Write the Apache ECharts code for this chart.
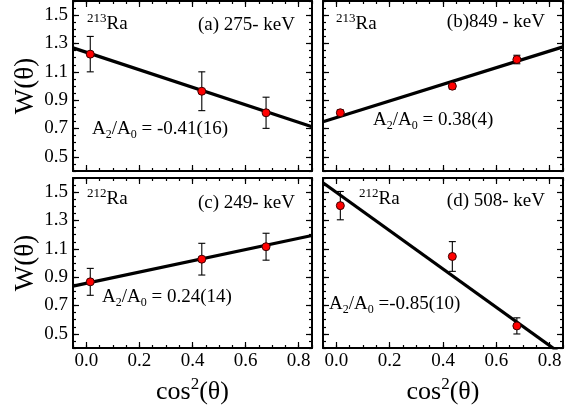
<!DOCTYPE html>
<html>
<head>
<meta charset="utf-8">
<script src="https://cdn.jsdelivr.net/npm/echarts@6/dist/echarts.min.js"></script>
<style>
html,body{margin:0;padding:0;background:#fff;}
#c{width:572px;height:406px;}
</style>
</head>
<body>
<div id="c"></div>
<script>
// ---- data ----
const cos2Values = [0.015, 0.435, 0.677];
const wA = [1.225, 0.963, 0.811];
const errA = [0.125, 0.137, 0.110];
const wB = [0.811, 0.999, 1.187];
const errB = [0.020, 0.020, 0.030];
const wC = [0.867, 1.027, 1.115];
const errC = [0.095, 0.112, 0.095];
const wD = [1.405, 1.046, 0.556];
const errD = [0.100, 0.105, 0.057];
const fitX = [-0.05, 0.85];
const fitA = [1.269, 0.712];
const fitB = [0.747, 1.276];
const fitC = [0.837, 1.194];
const fitD = [1.566, 0.349];
const xTickLabels = [0.0, 0.2, 0.4, 0.6, 0.8];
const yTickLabels = [0.5, 0.7, 0.9, 1.1, 1.3, 1.5];
const massNumbers = ['213', '213', '212', '212'];
const gammaLabels = ['(a) 275- keV', '(b)849 - keV', '(c) 249- keV', '(d) 508- keV'];
const ratioTexts = ['= -0.41(16)', '= 0.38(4)', '= 0.24(14)', '=-0.85(10)'];

const panelsW = [wA, wB, wC, wD];
const panelsErr = [errA, errB, errC, errD];
const panelsFit = [fitA, fitB, fitC, fitD];

// ---- layout ----
const FONT = "'Liberation Serif','Times New Roman',serif";
const grids = [
  {left: 73, top: 1, width: 239, height: 170},
  {left: 323, top: 1, width: 240, height: 170},
  {left: 73, top: 178, width: 239, height: 170},
  {left: 323, top: 178, width: 240, height: 170}
];
const XMIN = -0.05, XMAX = 0.85, YMIN = 0.4, YMAX = 1.6;

const xAxes = [], yAxes = [], series = [], graphics = [];

grids.forEach((g, i) => {
  const bottomRow = i >= 2, leftCol = i % 2 === 0;
  const base = {type: 'value', gridIndex: i, splitLine: {show: false}};
  const xi = xAxes.length;
  xAxes.push(Object.assign({}, base, {
    position: 'bottom', min: XMIN, max: XMAX, interval: 0.05,
    axisLine: {show: true, onZero: false, lineStyle: {color: '#000', width: 2}},
    axisTick: {show: true, inside: true, length: 3, lineStyle: {color: '#000', width: 1.2}},
    axisLabel: {show: bottomRow, customValues: xTickLabels, formatter: v => v.toFixed(1),
      color: '#000', fontFamily: FONT, fontSize: 19, margin: 4},
    name: bottomRow ? '{n|cos}{s|2}{n|(θ)}' : '',
    nameLocation: 'middle', nameGap: 28,
    nameTextStyle: {color: '#000', rich: {
      n: {fontFamily: FONT, fontSize: 26, lineHeight: 32, color: '#000'},
      s: {fontFamily: FONT, fontSize: 17, lineHeight: 17, verticalAlign: 'top', color: '#000'}
    }}
  }));
  xAxes.push(Object.assign({}, base, {
    position: 'bottom', min: XMIN, max: XMAX,
    axisLine: {show: false, onZero: false},
    axisTick: {show: true, inside: true, length: 6, customValues: xTickLabels, lineStyle: {color: '#000', width: 1.2}},
    axisLabel: {show: false}
  }));
  xAxes.push(Object.assign({}, base, {
    position: 'top', min: XMIN, max: XMAX, interval: 0.05,
    axisLine: {show: true, onZero: false, lineStyle: {color: '#000', width: 2}},
    axisTick: {show: true, inside: true, length: 3, lineStyle: {color: '#000', width: 1.2}},
    axisLabel: {show: false}
  }));
  xAxes.push(Object.assign({}, base, {
    position: 'top', min: XMIN, max: XMAX,
    axisLine: {show: false, onZero: false},
    axisTick: {show: true, inside: true, length: 6, customValues: xTickLabels, lineStyle: {color: '#000', width: 1.2}},
    axisLabel: {show: false}
  }));
  const yi = yAxes.length;
  yAxes.push(Object.assign({}, base, {
    position: 'left', min: YMIN, max: YMAX, interval: 0.05,
    axisLine: {show: true, onZero: false, lineStyle: {color: '#000', width: 2}},
    axisTick: {show: true, inside: true, length: 3, lineStyle: {color: '#000', width: 1.2}},
    axisLabel: {show: leftCol, customValues: yTickLabels, formatter: v => v.toFixed(1),
      color: '#000', fontFamily: FONT, fontSize: 19, margin: 5},
    name: leftCol ? 'W(θ)' : '',
    nameLocation: 'middle', nameGap: 34, nameRotate: 90,
    nameTextStyle: {color: '#000', fontFamily: FONT, fontSize: 27}
  }));
  yAxes.push(Object.assign({}, base, {
    position: 'left', min: YMIN, max: YMAX,
    axisLine: {show: false, onZero: false},
    axisTick: {show: true, inside: true, length: 6, customValues: yTickLabels, lineStyle: {color: '#000', width: 1.2}},
    axisLabel: {show: false}
  }));
  yAxes.push(Object.assign({}, base, {
    position: 'right', min: YMIN, max: YMAX, interval: 0.05,
    axisLine: {show: true, onZero: false, lineStyle: {color: '#000', width: 2}},
    axisTick: {show: true, inside: true, length: 3, lineStyle: {color: '#000', width: 1.2}},
    axisLabel: {show: false}
  }));
  yAxes.push(Object.assign({}, base, {
    position: 'right', min: YMIN, max: YMAX,
    axisLine: {show: false, onZero: false},
    axisTick: {show: true, inside: true, length: 6, customValues: yTickLabels, lineStyle: {color: '#000', width: 1.2}},
    axisLabel: {show: false}
  }));

  series.push({
    type: 'line', xAxisIndex: xi, yAxisIndex: yi, clip: true,
    data: fitX.map((x, k) => [x, panelsFit[i][k]]),
    showSymbol: false, symbol: 'none', silent: true,
    lineStyle: {color: '#000', width: 3.2}, z: 3
  });
  series.push({
    type: 'custom', xAxisIndex: xi, yAxisIndex: yi, z: 4,
    data: cos2Values.map((x, k) => [x, panelsW[i][k], panelsErr[i][k]]),
    renderItem: (params, api) => {
      const x = api.value(0), y = api.value(1), e = api.value(2);
      const top = api.coord([x, y + e]);
      const bot = api.coord([x, y - e]);
      const hw = 3.5;
      const st = {stroke: '#000', lineWidth: 1.1};
      return {type: 'group', children: [
        {type: 'line', shape: {x1: top[0], y1: top[1], x2: bot[0], y2: bot[1]}, style: st},
        {type: 'line', shape: {x1: top[0] - hw, y1: top[1], x2: top[0] + hw, y2: top[1]}, style: st},
        {type: 'line', shape: {x1: bot[0] - hw, y1: bot[1], x2: bot[0] + hw, y2: bot[1]}, style: st}
      ]};
    }
  });
  series.push({
    type: 'scatter', xAxisIndex: xi, yAxisIndex: yi, z: 5,
    data: cos2Values.map((x, k) => [x, panelsW[i][k]]),
    symbol: 'circle', symbolSize: 8,
    itemStyle: {color: '#ff0000', borderColor: '#3a0000', borderWidth: 1, opacity: 1}
  });
});

const richMain = {
  n: {fontFamily: FONT, fontSize: 19, lineHeight: 24, color: '#000'},
  sup: {fontFamily: FONT, fontSize: 13, lineHeight: 13, verticalAlign: 'top', color: '#000'},
  sub: {fontFamily: FONT, fontSize: 12, lineHeight: 12, verticalAlign: 'bottom', color: '#000'}
};
const nucPos = [[87, 24], [336, 24], [87, 199], [359, 199]];
const gamPos = [[295, 25], [545, 22], [295, 203], [545, 201]];
const ratPos = [[92, 129], [373, 120], [102, 297], [329, 304]];
for (let i = 0; i < 4; i++) {
  graphics.push({type: 'text', x: nucPos[i][0], y: nucPos[i][1], z: 10,
    style: {text: '{sup|' + massNumbers[i] + '}{n|Ra}', rich: richMain, align: 'left', verticalAlign: 'middle'}});
  graphics.push({type: 'text', x: gamPos[i][0], y: gamPos[i][1], z: 10,
    style: {text: '{n|' + gammaLabels[i] + '}', rich: richMain, align: 'right', verticalAlign: 'middle'}});
  graphics.push({type: 'text', x: ratPos[i][0], y: ratPos[i][1], z: 10,
    style: {text: '{n|A}{sub|2}{n|/A}{sub|0}{n| ' + ratioTexts[i] + '}', rich: richMain, align: 'left', verticalAlign: 'middle'}});
}

const chart = echarts.init(document.getElementById('c'), null, {renderer: 'canvas'});
chart.setOption({
  animation: false,
  backgroundColor: '#fff',
  grid: grids,
  xAxis: xAxes,
  yAxis: yAxes,
  series: series,
  graphic: graphics
});
</script>
</body>
</html>
